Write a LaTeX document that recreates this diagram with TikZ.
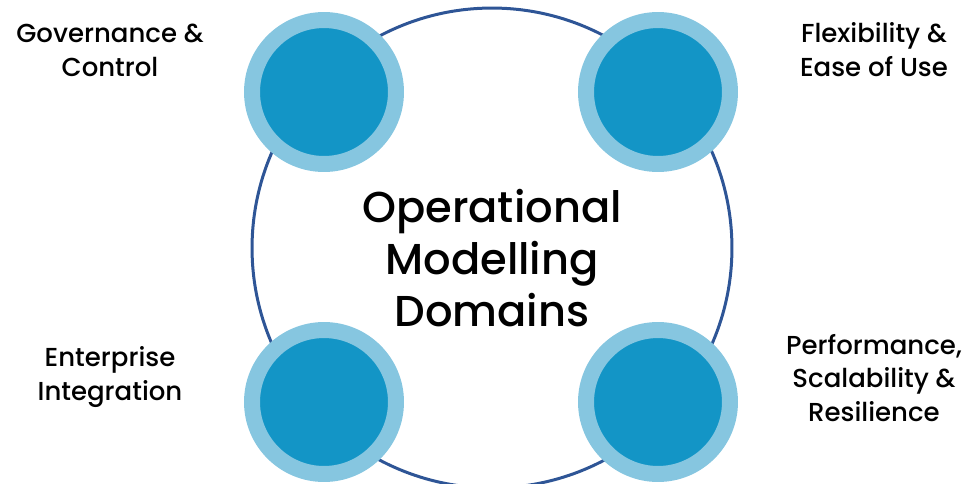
\documentclass[tikz,border=0pt]{standalone}
\usepackage{fontspec}
\setmainfont{Poppins Medium}
\definecolor{ringblue}{HTML}{2E5596}
\definecolor{haloblue}{HTML}{86C6E0}
\definecolor{coreblue}{HTML}{1395C6}
\tikzset{
  bigring/.style={circle, draw=ringblue, line width=0.06cm, minimum size=9.6cm, inner sep=0pt},
  domaindot/.style={circle, draw=haloblue, fill=coreblue, line width=0.32cm, minimum size=2.88cm, inner sep=0pt},
  sidetext/.style={align=center, font=\fontsize{14.8}{19.3}\selectfont, text=black},
  centretext/.style={align=center, font=\fontsize{24.6}{29.5}\selectfont, text=black}
}
\begin{document}
\begin{tikzpicture}[x=0.02cm,y=-0.02cm]
\useasboundingbox (0,0) rectangle (975,484);
% big circle first, the domains sit on top of it
\node[bigring] (ring) at (492,248) {};
\node[domaindot] (gov) at (324,92) {};
\node[domaindot] (flex) at (658,92) {};
\node[domaindot] (ent) at (324,402) {};
\node[domaindot] (perf) at (658,402) {};
% texts
\node[centretext] (mod) at (492,258) {Operational\\Modelling\\Domains};
\node[sidetext] (govtxt) at (110,50) {Governance \&\\Control};
\node[sidetext] (flextxt) at (874,50) {Flexibility \&\\Ease of Use};
\node[sidetext] (enttxt) at (110,377) {Enterprise\\Integration};
\node[sidetext] (perftxt) at (874,378) {Performance,\\Scalability \&\\Resilience};
\end{tikzpicture}
\end{document}
